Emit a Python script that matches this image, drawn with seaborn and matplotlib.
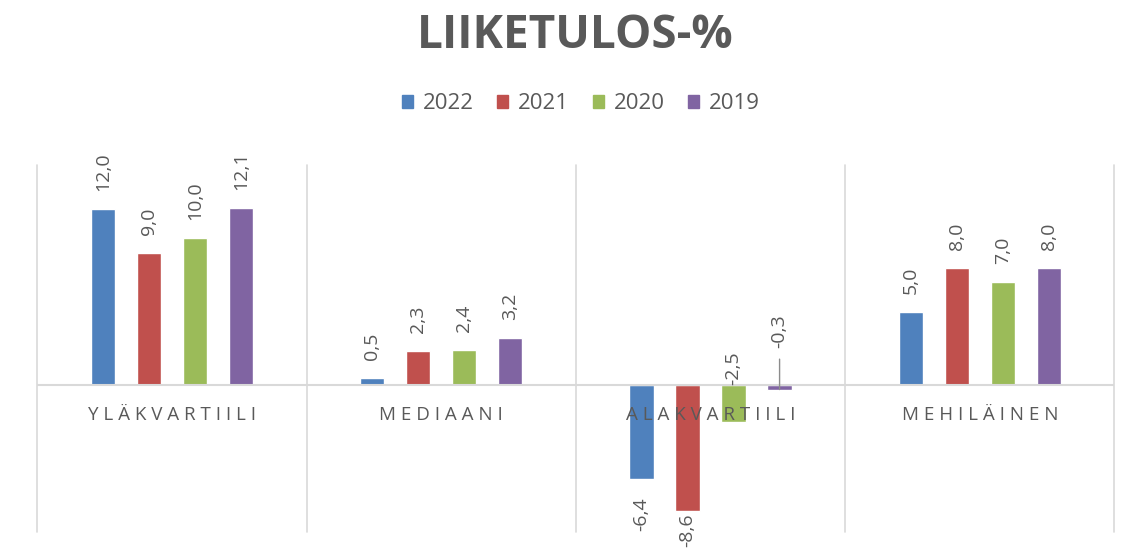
import matplotlib
matplotlib.use("Agg")
import matplotlib.pyplot as plt
import seaborn as sns
import numpy as np
import pandas as pd

# Tiedot
kategoriat = ["YLÄKVARTIILI", "MEDIAANI", "ALAKVARTIILI", "MEHILÄINEN"]
vuodet = ["2022", "2021", "2020", "2019"]
arvot_2022 = [12.0, 0.5, -6.4, 5.0]
arvot_2021 = [9.0, 2.3, -8.6, 8.0]
arvot_2020 = [10.0, 2.4, -2.5, 7.0]
arvot_2019 = [12.1, 3.2, -0.3, 8.0]

varit = ["#4F81BD", "#C0504D", "#9BBB59", "#8064A2"]
harmaa = "#595959"
viiva = "#D9D9D9"

df = pd.DataFrame({
    "kategoria": kategoriat * 4,
    "vuosi": np.repeat(vuodet, len(kategoriat)),
    "arvo": arvot_2022 + arvot_2021 + arvot_2020 + arvot_2019,
})

sns.set_style("white")
plt.rcParams["font.family"] = ["Open Sans", "DejaVu Sans"]

fig = plt.figure(figsize=(11.28, 5.58), dpi=100)
ax = fig.add_axes([0.033, 0.047, 0.955, 0.657])

sns.barplot(data=df, x="kategoria", y="arvo", hue="vuosi", order=kategoriat,
            hue_order=vuodet, palette=varit, width=0.684, gap=0.47,
            saturation=1, ax=ax, legend=True)

ax.set_xlim(-0.5, 3.5)
ax.set_ylim(-10, 15)
for s in ax.spines.values():
    s.set_visible(False)
ax.set_xticks([])
ax.set_yticks([])
ax.set_xlabel("")
ax.set_ylabel("")

# erotinviivat ja nollaviiva
for xv in np.arange(-0.5, 4.0, 1.0):
    ax.axvline(xv, color=viiva, lw=1.2, zorder=0, clip_on=False)
ax.axhline(0, color=viiva, lw=1.5, zorder=1)

# kategorianimet nollaviivan alle, harvennettuna
for i, k in enumerate(kategoriat):
    ax.text(i, -2.05, " ".join(k), ha="center", va="center", fontsize=13.5,
            color=harmaa, zorder=5)

# arvojen tekstit
koko = 14
erikois = {(2, 1): ("below", 2), (2, 2): ("zero", 0), (2, 3): ("leader", 42)}
for j, cont in enumerate(ax.containers):
    for i, bar in enumerate(cont):
        v = df[(df.kategoria == kategoriat[i]) & (df.vuosi == vuodet[j])].arvo.iloc[0]
        x = bar.get_x() + bar.get_width() / 2
        teksti = f"{v:.1f}".replace(".", ",")
        tapa, off = erikois.get((i, j), ("above" if v >= 0 else "below", 18))
        if tapa == "above":
            ax.annotate(teksti, (x, v), xytext=(0, off), textcoords="offset pixels",
                        rotation=90, ha="center", va="bottom", fontsize=koko, color=harmaa)
        elif tapa == "below":
            ax.annotate(teksti, (x, v), xytext=(0, -off), textcoords="offset pixels",
                        rotation=90, ha="center", va="top", fontsize=koko, color=harmaa)
        elif tapa == "zero":
            ax.annotate(teksti, (x, 0), xytext=(0, 0), textcoords="offset pixels",
                        rotation=90, ha="center", va="bottom", fontsize=koko, color=harmaa)
        else:
            ax.annotate(teksti, (x, v), xytext=(0, off), textcoords="offset pixels",
                        rotation=90, ha="center", va="bottom", fontsize=koko, color=harmaa,
                        arrowprops=dict(arrowstyle="-", color="#8c8c8c", lw=1,
                                        shrinkA=6, shrinkB=0))

# selite
ax.legend_.remove()
handles = [plt.Rectangle((0, 0), 1, 1, color=c) for c in varit]
fig.legend(handles, vuodet, loc="center", bbox_to_anchor=(0.515, 0.814), ncol=4,
           frameon=False, fontsize=16, handlelength=0.5, handleheight=0.5,
           handletextpad=0.45, columnspacing=1.05, labelcolor=harmaa)

fig.text(0.51, 0.937, "LIIKETULOS-%", ha="center", va="center", fontsize=33,
         fontweight="bold", color=harmaa)

fig.savefig("out.png", dpi=100)
